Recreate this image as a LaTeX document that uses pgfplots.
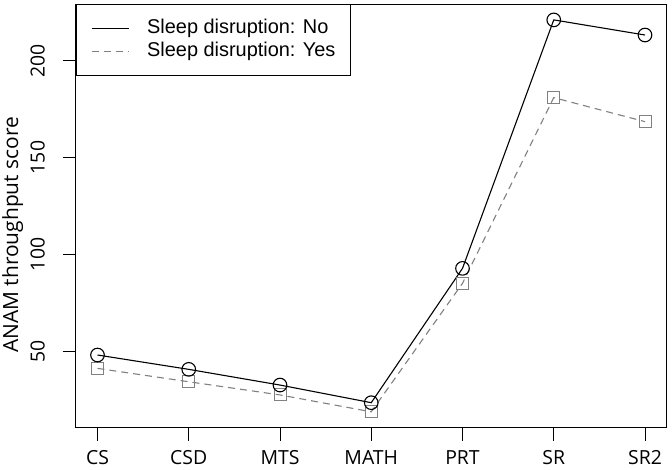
\documentclass[border=0pt]{standalone}
\usepackage{fontspec}
\setmainfont{Open Sans}
\newfontfamily\legendfont{Liberation Sans}
\usepackage{pgfplots}
\pgfplotsset{compat=1.18}
\definecolor{yesgray}{HTML}{808080}
\begin{document}
\begin{tikzpicture}
\begin{axis}[
  scale only axis, width=591.3bp, height=423.3bp,
  xmin=-0.24, xmax=6.24, ymin=10.7, ymax=229.1,
  xtick={0,1,2,3,4,5,6},
  xticklabels={CS,CSD,MTS,MATH,PRT,SR,SR2},
  ytick={50,100,150,200},
  xtick pos=left, ytick pos=left,
  tick align=outside, major tick length=13bp,
  tick style={black, line width=0.9bp},
  axis line style={black, line width=0.9bp},
  /pgf/number format/assume math mode=true,
  xticklabel style={font=\fontsize{19.5}{19.5}\selectfont, anchor=base, yshift=-24bp},
  yticklabel style={font=\fontsize{19.5}{19.5}\selectfont, rotate=90, anchor=base, yshift=18bp},
  ylabel={ANAM throughput score},
  every axis y label/.style={at={(axis description cs:0,0.5)}, xshift=-63bp, yshift=-19bp, rotate=90, anchor=center, font=\fontsize{21}{21}\selectfont},
  reverse legend,
  legend cell align=left,
  legend image code/.code={\draw[#1] (0bp,0bp) -- (37bp,0bp);},
  legend style={at={(0,1)}, anchor=north west, draw=black, line width=0.9bp, fill=white,
    inner xsep=15bp, inner ysep=14bp, row sep=2.5bp,
    font=\legendfont\fontsize{20}{22}\selectfont,
    nodes={inner sep=0pt, text height=15bp, text depth=5bp},
    /tikz/every odd column/.append style={column sep=18bp}},
]
\addplot[yesgray, line width=1.1bp, dash pattern=on 7bp off 5bp,
  mark=square, mark size=6bp, mark options={solid, fill=white, draw=yesgray, line width=1bp}]
  coordinates {(0,41.2) (1,34.3) (2,27.5) (3,18.8) (4,85.1) (5,180.9) (6,168.5)};
\addlegendentry{Sleep disruption: Yes}
\addplot[black, line width=1.1bp,
  mark=o, mark size=6.8bp, mark options={solid, fill=white, draw=black, line width=1.1bp}]
  coordinates {(0,48.1) (1,40.7) (2,32.6) (3,23.5) (4,92.8) (5,221.0) (6,213.2)};
\addlegendentry{Sleep disruption: No}
\end{axis}
\pgfresetboundingbox
\path (-75.6bp,-42.5bp) rectangle (596.4bp,427.5bp);
\end{tikzpicture}
\end{document}
